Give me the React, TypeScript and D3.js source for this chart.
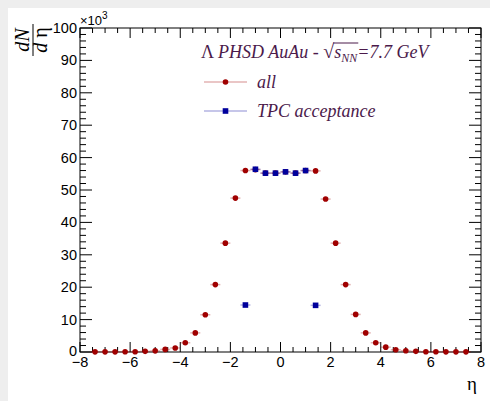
import { useEffect, useRef } from "react";
import * as d3 from "d3";

// eta bin centres (bin width 0.4)
const etaBins = [
  -7.4, -7.0, -6.6, -6.2, -5.8, -5.4, -5.0, -4.6, -4.2, -3.8, -3.4, -3.0, -2.6,
  -2.2, -1.8, -1.4, -1.0, -0.6, -0.2, 0.2, 0.6, 1.0, 1.4, 1.8, 2.2, 2.6, 3.0,
  3.4, 3.8, 4.2, 4.6, 5.0, 5.4, 5.8, 6.2, 6.6, 7.0, 7.4,
];
// dN/deta for all lambdas
const allValues = [
  50, 50, 50, 60, 80, 200, 350, 800, 1250, 2850, 5900, 11500, 20800, 33600,
  47500, 56000, 56300, 55200, 55200, 55600, 55200, 56000, 55900, 47200, 33600,
  20800, 11600, 5900, 2850, 1500, 700, 400, 200, 80, 60, 50, 50, 50,
];
// TPC acceptance
const tpcBins = [-1.4, -1.0, -0.6, -0.2, 0.2, 0.6, 1.0, 1.4];
const tpcValues = [14500, 56400, 55200, 55200, 55600, 55200, 56000, 14400];

const xTicks = [-8, -6, -4, -2, 0, 2, 4, 6, 8];
const yTicks = [0, 10, 20, 30, 40, 50, 60, 70, 80, 90, 100];

function App() {
  const ref = useRef<SVGSVGElement>(null);

  useEffect(() => {
    const svg = d3.select(ref.current);
    svg.selectAll("*").remove();

    const W = 490;
    const H = 401;
    const frame = { left: 80, right: 481, top: 28, bottom: 352 };
    const axisFont = "'Liberation Sans', Arial, sans-serif";
    const serif = "'Liberation Serif', 'Times New Roman', serif";
    const redCol = "#a00000";
    const blueCol = "#00009c";
    const textCol = "#4b1a4b";

    const x = d3.scaleLinear([-8, 8], [frame.left, frame.right]);
    const y = d3.scaleLinear([0, 100000], [frame.bottom, frame.top]);

    // fond gris de la page + canvas blanc
    svg.append("rect").attr("width", W).attr("height", H).attr("fill", "#eeeeee");
    svg.append("rect").attr("x", 8).attr("y", 8).attr("width", W - 8).attr("height", H - 8).attr("fill", "white");

    // ticks on all four sides
    const tickG = svg.append("g").attr("stroke", "black").attr("stroke-width", 1);
    d3.range(-8, 8.001, 0.5).forEach((v) => {
      const major = Math.abs(v % 2) < 1e-6;
      const len = major ? 10 : 5;
      tickG.append("line").attr("x1", x(v)).attr("x2", x(v)).attr("y1", frame.bottom).attr("y2", frame.bottom - len);
      tickG.append("line").attr("x1", x(v)).attr("x2", x(v)).attr("y1", frame.top).attr("y2", frame.top + len);
    });
    d3.range(0, 100001, 2000).forEach((v) => {
      const major = v % 10000 === 0;
      const len = major ? 12 : 6;
      tickG.append("line").attr("y1", y(v)).attr("y2", y(v)).attr("x1", frame.left).attr("x2", frame.left + len);
      tickG.append("line").attr("y1", y(v)).attr("y2", y(v)).attr("x1", frame.right).attr("x2", frame.right - len);
    });

    svg
      .append("rect")
      .attr("x", frame.left)
      .attr("y", frame.top)
      .attr("width", frame.right - frame.left)
      .attr("height", frame.bottom - frame.top)
      .attr("fill", "none")
      .attr("stroke", "black");

    // tick labels
    xTicks.forEach((t) => {
      svg
        .append("text")
        .attr("x", x(t))
        .attr("y", frame.bottom + 15)
        .attr("text-anchor", "middle")
        .attr("font-family", axisFont)
        .attr("font-size", 14.5)
        .text(t < 0 ? "\u2212" + Math.abs(t) : String(t));
    });
    yTicks.forEach((t) => {
      svg
        .append("text")
        .attr("x", frame.left - 3)
        .attr("y", y(t * 1000) + (t === 0 ? 4 : 5))
        .attr("text-anchor", "end")
        .attr("font-family", axisFont)
        .attr("font-size", 14.5)
        .text(t);
    });
    const exp = svg.append("text").attr("x", frame.left).attr("y", 25).attr("font-family", axisFont).attr("font-size", 13);
    exp.append("tspan").text("\u00d710");
    exp.append("tspan").attr("dy", -6).attr("font-size", 10).text("3");

    // axis titles
    svg
      .append("text")
      .attr("x", frame.right - 4)
      .attr("y", 390)
      .attr("text-anchor", "end")
      .attr("font-family", serif)
      .attr("font-size", 19)
      .text("\u03b7");

    const yTitle = svg.append("g").attr("transform", "translate(33,40) rotate(-90)").attr("font-family", serif).attr("font-size", 20);
    yTitle.append("text").attr("x", 0).attr("y", -4).attr("text-anchor", "middle").attr("font-style", "italic").text("dN");
    yTitle.append("line").attr("x1", -16).attr("x2", 16).attr("y1", 0).attr("y2", 0).attr("stroke", "black").attr("stroke-width", 1);
    const den = yTitle.append("text").attr("x", 0).attr("y", 14).attr("text-anchor", "middle").style("white-space", "pre");
    den.append("tspan").attr("font-style", "italic").text("d ");
    den.append("tspan").text("\u03b7");

    // draw one series: horizontal bin-width error + marker
    const drawSeries = (bins: number[], vals: number[], col: string, square: boolean) => {
      const g = svg.append("g");
      bins.forEach((b, i) => {
        g.append("line")
          .attr("x1", x(b - 0.2))
          .attr("x2", x(b + 0.2))
          .attr("y1", y(vals[i]))
          .attr("y2", y(vals[i]))
          .attr("stroke", col)
          .attr("stroke-opacity", 0.3)
          .attr("stroke-width", 1.5);
      });
      bins.forEach((b, i) => {
        if (square) {
          g.append("rect").attr("x", x(b) - 2.8).attr("y", y(vals[i]) - 2.8).attr("width", 5.6).attr("height", 5.6).attr("fill", col);
        } else {
          g.append("circle").attr("cx", x(b)).attr("cy", y(vals[i])).attr("r", 2.8).attr("fill", col);
        }
      });
    };
    drawSeries(etaBins, allValues, redCol, false);
    drawSeries(tpcBins, tpcValues, blueCol, true);

    // legend
    const fontSize = 18;
    let cx = 201;
    const titleY = 58;
    const piece = (t: string, opts: { italic?: boolean; size?: number; dy?: number }) => {
      const el = svg
        .append("text")
        .attr("x", cx)
        .attr("y", titleY + (opts.dy || 0))
        .attr("font-family", serif)
        .attr("font-size", opts.size || fontSize)
        .attr("font-style", opts.italic ? "italic" : "normal")
        .attr("fill", textCol)
        .style("white-space", "pre")
        .text(t);
      const w = (el.node() as SVGTextElement).getComputedTextLength();
      const start = cx;
      cx += w;
      return { start, end: cx };
    };
    piece("\u039b ", {});
    piece("PHSD AuAu - ", { italic: true });
    piece("\u221a", { size: 20 });
    const s = piece("s", { italic: true });
    const nn = piece("NN", { italic: true, size: 12, dy: 4 });
    piece("=7.7 GeV", { italic: true });
    svg
      .append("line")
      .attr("x1", s.start - 1)
      .attr("x2", nn.end + 1)
      .attr("y1", titleY - 15)
      .attr("y2", titleY - 15)
      .attr("stroke", textCol)
      .attr("stroke-width", 1);

    const legendItems = [
      { label: "all", col: redCol, square: false, yy: 82 },
      { label: "TPC acceptance", col: blueCol, square: true, yy: 111 },
    ];
    legendItems.forEach((it) => {
      svg
        .append("line")
        .attr("x1", 204)
        .attr("x2", 247)
        .attr("y1", it.yy)
        .attr("y2", it.yy)
        .attr("stroke", it.col)
        .attr("stroke-opacity", 0.3)
        .attr("stroke-width", 1.5);
      if (it.square) {
        svg.append("rect").attr("x", 225.5 - 2.8).attr("y", it.yy - 2.8).attr("width", 5.6).attr("height", 5.6).attr("fill", it.col);
      } else {
        svg.append("circle").attr("cx", 225.5).attr("cy", it.yy).attr("r", 2.8).attr("fill", it.col);
      }
      svg
        .append("text")
        .attr("x", 257)
        .attr("y", it.yy + 6)
        .attr("font-family", serif)
        .attr("font-size", fontSize)
        .attr("font-style", "italic")
        .attr("fill", textCol)
        .text(it.label);
    });
  }, []);

  return (
    <svg
      ref={ref}
      width={490}
      height={401}
      style={{ position: "absolute", left: 0, top: 0, display: "block" }}
    ></svg>
  );
}

export default App;
